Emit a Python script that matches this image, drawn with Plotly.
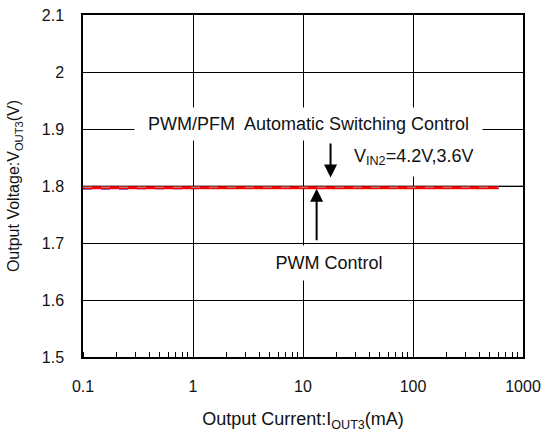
import math
import plotly.graph_objects as go

# ---- data ----
current_mA = [0.1, 0.2, 0.5, 1, 2, 5, 10, 20, 50, 100, 200, 500, 600]
vout_vin42 = [1.797, 1.797, 1.797, 1.797, 1.797, 1.797, 1.797, 1.797, 1.797, 1.797, 1.797, 1.797, 1.797]
vout_vin36 = [1.7955, 1.7958, 1.797, 1.797, 1.797, 1.797, 1.797, 1.797, 1.797, 1.797, 1.797, 1.797, 1.797]
vout_pfm = [1.7978, 1.7978, 1.7978, 1.7978, 1.7978, 1.7978, 1.7978, 1.7978, 1.7978, 1.7978, 1.7978, 1.7978, 1.7978]
y_ticks = [1.5, 1.6, 1.7, 1.8, 1.9, 2.0, 2.1]
y_tick_labels = ["1.5", "1.6", "1.7", "1.8", "1.9", "2", "2.1"]
x_ticks = [0.1, 1, 10, 100, 1000]
x_tick_labels = ["0.1", "1", "10", "100", "1000"]
target_v = 1.8

FONT = "Arial, Liberation Sans, sans-serif"
lg = math.log10

fig = go.Figure()
fig.add_trace(go.Scatter(x=current_mA, y=vout_vin36, mode="lines",
                         line=dict(color="#0000FF", width=2, dash="dash"), showlegend=False))
fig.add_trace(go.Scatter(x=current_mA, y=vout_vin42, mode="lines",
                         line=dict(color="#FF0000", width=3), showlegend=False))
fig.add_trace(go.Scatter(x=current_mA, y=vout_pfm, mode="lines",
                         line=dict(color="#999999", width=1.2, dash="dash"), showlegend=False))

# gray reference grid line at target voltage
fig.add_shape(type="line", xref="paper", yref="y", x0=0, x1=1, y0=target_v, y1=target_v,
              line=dict(color="#888888", width=1.5), layer="between")

ann_font = dict(family=FONT, size=18, color="#111111")
annotations = [
    dict(x=lg(11.2), y=1.909, xref="x", yref="y", text="PWM/PFM  Automatic Switching Control",
         showarrow=False, bgcolor="white", width=345, height=30, borderpad=1, font=ann_font),
    dict(x=lg(26.5), y=1.851, xref="x", yref="y", xanchor="left",
         text="V<sub>IN2</sub>=4.2V,3.6V", showarrow=False, bgcolor="white",
         height=32, borderpad=3, font=ann_font),
    dict(x=lg(17.4), y=1.665, xref="x", yref="y", text="PWM Control",
         showarrow=False, bgcolor="white", width=118, height=32, borderpad=1, font=ann_font),
    # arrows
    dict(x=lg(17.8), y=1.815, ax=lg(17.8), ay=1.877, xref="x", yref="y", axref="x", ayref="y",
         text="", showarrow=True, arrowhead=2, arrowsize=1.3, arrowwidth=2, arrowcolor="black"),
    dict(x=lg(13.3), y=1.795, ax=lg(13.3), ay=1.702, xref="x", yref="y", axref="x", ayref="y",
         text="", showarrow=True, arrowhead=2, arrowsize=1.3, arrowwidth=2, arrowcolor="black"),
]

fig.update_layout(
    width=546, height=432,
    margin=dict(l=83, r=23, t=15, b=75, autoexpand=False),
    paper_bgcolor="white", plot_bgcolor="white",
    font=dict(family=FONT, size=16, color="#111111"),
    annotations=annotations,
)
fig.update_xaxes(
    type="log", range=[-1, 3], tickvals=x_ticks, ticktext=x_tick_labels,
    showgrid=True, gridcolor="black", gridwidth=1,
    showline=True, linecolor="black", linewidth=1.5, mirror=True,
    ticks="", ticklabelstandoff=14, ticklabeloverflow="allow", zeroline=False,
    minor=dict(ticks="inside", ticklen=5, tickcolor="black", tickwidth=1, dtick="D1", showgrid=False),
    title=dict(text="Output Current:I<sub>OUT3</sub>(mA)", font=dict(size=18), standoff=26),
    automargin=False,
)
fig.update_yaxes(
    range=[1.5, 2.1], tickvals=y_ticks, ticktext=y_tick_labels,
    showgrid=True, gridcolor="black", gridwidth=1,
    showline=True, linecolor="black", linewidth=1.5, mirror=True,
    ticks="", ticklabelstandoff=14, ticklabeloverflow="allow", zeroline=False,
    title=dict(text="Output Voltage:V<sub>OUT3</sub>(V)", font=dict(size=16), standoff=18),
    automargin=False,
)

fig.write_html("out.html", config={"displayModeBar": False},
               post_script="document.body.style.margin='0';document.body.style.overflow='hidden';")
